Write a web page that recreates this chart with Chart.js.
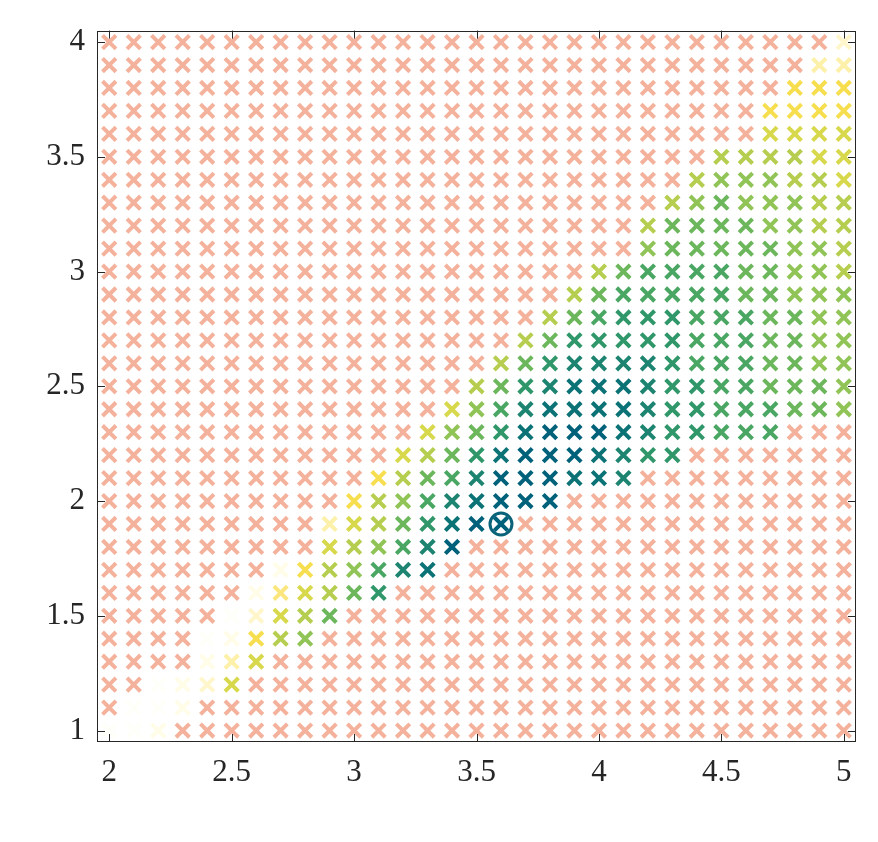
<!DOCTYPE html>
<html>
<head>
<meta charset="utf-8">
<script src="https://cdn.jsdelivr.net/npm/chart.js@4.4.0/dist/chart.umd.min.js"></script>
<style>
  html, body { margin: 0; padding: 0; background: #fff; }
  #wrap { width: 878px; height: 842px; }
</style>
</head>
<body>
<div id="wrap"><canvas id="chart" width="878" height="842"></canvas></div>
<script>
// grid of tested points
const xValues = [2.0, 2.1, 2.2, 2.3, 2.4, 2.5, 2.6, 2.7, 2.8, 2.9, 3.0, 3.1, 3.2, 3.3, 3.4, 3.5,
                 3.6, 3.7, 3.8, 3.9, 4.0, 4.1, 4.2, 4.3, 4.4, 4.5, 4.6, 4.7, 4.8, 4.9, 5.0];
const yValues = [1.0, 1.1, 1.2, 1.3, 1.4, 1.5, 1.6, 1.7, 1.8, 1.9, 2.0, 2.1, 2.2, 2.3, 2.4, 2.5,
                 2.6, 2.7, 2.8, 2.9, 3.0, 3.1, 3.2, 3.3, 3.4, 3.5, 3.6, 3.7, 3.8, 3.9, 4.0];
const xTicks = [2, 2.5, 3, 3.5, 4, 4.5, 5];
const yTicks = [1, 1.5, 2, 2.5, 3, 3.5, 4];

// one entry per row (y = 1.0 ... 4.0): [first coloured column, colour level per column]
// everything outside the band is drawn salmon
const bandRows = [
  [0, 'eed'],
  [1, 'eed'],
  [2, 'edc8'],
  [4, 'db8'],
  [4, 'ed976'],
  [5, 'ec875'],
  [6, 'da8753'],
  [7, 'd976421'],
  [9, '876420'],
  [9, 'b8753100'],
  [10, '976421000'],
  [11, '97542000112'],
  [12, '875310001233'],
  [13, '865310001233444'],
  [14, '86421111233444556'],
  [15, '7532111233445556'],
  [16, '753222234445566'],
  [17, '75333334445566'],
  [18, '7543334445566'],
  [19, '754444455666'],
  [20, '75444455667'],
  [22, '655555667'],
  [22, '755556677'],
  [23, '76566677'],
  [24, '7666778'],
  [25, '777788'],
  [27, '8888'],
  [27, '9999'],
  [28, '999'],
  [29, 'bb'],
  [30, 'c']
];

const bestPoint = { x: 3.6, y: 1.9 };

const levelColors = {
  '0': '#00627a', '1': '#0b7276', '2': '#1c8470', '3': '#30976a', '4': '#4aa763',
  '5': '#6cb65c', '6': '#90c456', '7': '#b6ce50', '8': '#d8d84c', '9': '#f6de4e',
  'a': '#fbe67e', 'b': '#fdf0a8', 'c': '#fff6cc', 'd': '#fffce8', 'e': '#fffffa'
};
const infeasibleColor = '#f4b29c';

const gridPoints = [];
const gridColors = [];
yValues.forEach((yv, r) => {
  const [start, codes] = bandRows[r];
  xValues.forEach((xv, c) => {
    const k = c - start;
    const code = (k >= 0 && k < codes.length) ? codes[k] : null;
    gridPoints.push({ x: xv, y: yv });
    gridColors.push(code ? levelColors[code] : infeasibleColor);
  });
});

const axisColor = '#262626';
const tickFont = { family: "'Liberation Serif', 'Times New Roman', serif", size: 31 };

// MATLAB-like box with inward ticks on all four sides
const frameTicks = {
  id: 'frameTicks',
  afterDraw(chart) {
    const { ctx, chartArea: a, scales: { x, y } } = chart;
    const len = 8;
    ctx.save();
    ctx.strokeStyle = axisColor;
    ctx.lineWidth = 1;
    ctx.beginPath();
    xTicks.forEach(v => {
      const px = Math.round(x.getPixelForValue(v)) + 0.5;
      ctx.moveTo(px, a.bottom); ctx.lineTo(px, a.bottom - len);
      ctx.moveTo(px, a.top); ctx.lineTo(px, a.top + len);
    });
    yTicks.forEach(v => {
      const py = Math.round(y.getPixelForValue(v)) + 0.5;
      ctx.moveTo(a.left, py); ctx.lineTo(a.left + len, py);
      ctx.moveTo(a.right, py); ctx.lineTo(a.right - len, py);
    });
    ctx.stroke();
    ctx.strokeRect(Math.round(a.left) + 0.5, Math.round(a.top) + 0.5,
                   Math.round(a.width) - 1, Math.round(a.height) - 1);
    ctx.restore();
  }
};

new Chart(document.getElementById('chart'), {
  type: 'scatter',
  data: {
    datasets: [
      {
        data: gridPoints,
        pointStyle: 'crossRot',
        pointRadius: 9.5,
        pointBorderWidth: 4,
        pointBorderColor: gridColors,
        pointBackgroundColor: gridColors
      },
      {
        data: [bestPoint],
        pointStyle: 'circle',
        pointRadius: 11,
        pointBorderWidth: 3,
        pointBorderColor: '#0b637a',
        pointBackgroundColor: 'rgba(0,0,0,0)'
      }
    ]
  },
  options: {
    responsive: false,
    animation: false,
    events: [],
    layout: { padding: { top: 30, right: 22, left: 0, bottom: 0 } },
    plugins: { legend: { display: false }, tooltip: { enabled: false } },
    scales: {
      x: {
        type: 'linear',
        min: 1.95,
        max: 5.05,
        afterBuildTicks: (scale) => { scale.ticks = xTicks.map(v => ({ value: v })); },
        afterFit: (scale) => { scale.height = 100; },
        grid: { display: false, drawTicks: false },
        border: { display: false },
        ticks: { color: axisColor, font: tickFont, padding: 12, maxRotation: 0, callback: v => String(v) }
      },
      y: {
        type: 'linear',
        min: 0.95,
        max: 4.05,
        afterBuildTicks: (scale) => { scale.ticks = yTicks.map(v => ({ value: v })); },
        afterFit: (scale) => { scale.width = 97; },
        grid: { display: false, drawTicks: false },
        border: { display: false },
        ticks: { color: axisColor, font: tickFont, padding: 12, callback: v => String(v) }
      }
    }
  },
  plugins: [frameTicks]
});
</script>
</body>
</html>
